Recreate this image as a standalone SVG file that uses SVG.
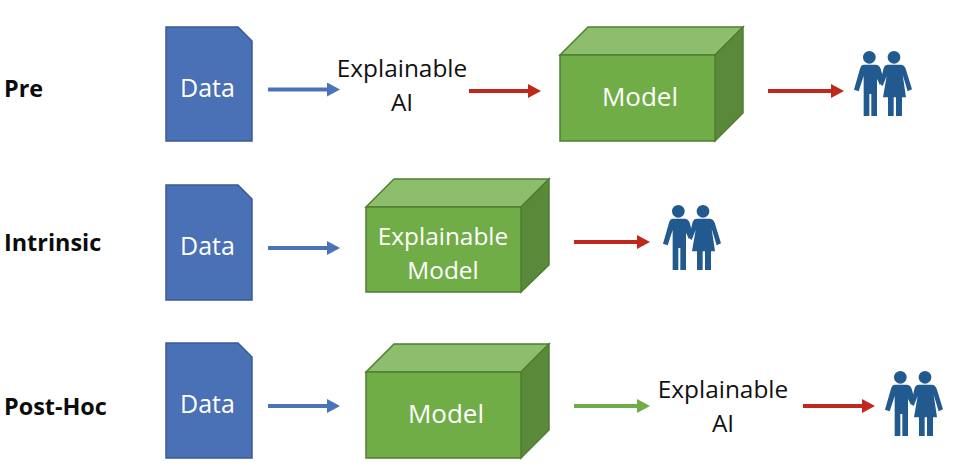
<svg xmlns="http://www.w3.org/2000/svg" xmlns:xlink="http://www.w3.org/1999/xlink" width="958" height="472" viewBox="0 0 958 472">
<style>
text{font-family:"Open Sans","Liberation Sans",sans-serif;text-anchor:middle}
.w{fill:#fff;font-size:24.4px}
.m{fill:#fff;font-size:26px}
.d{fill:#fff;font-size:25px}
.k{fill:#111;font-size:24.4px}
.b{fill:#0c0c0c;font-size:23.4px;font-weight:700;text-anchor:start}
.doc{fill:#4a70b5;stroke:#3a5a94;stroke-width:1.5}
.front{fill:#70ad47;stroke:#507e32;stroke-width:1.5}
.top{fill:#8dbe6c;stroke:#507e32;stroke-width:1.5}
.side{fill:#5a8a39;stroke:#507e32;stroke-width:1.5}
.cb{stroke:#4a74b8;stroke-width:4;fill:none;marker-end:url(#ab)}
.cr{stroke:#c0281c;stroke-width:4;fill:none;marker-end:url(#ar)}
.cg{stroke:#70ad47;stroke-width:4;fill:none;marker-end:url(#ag)}
</style>
<defs>
<marker id="ab" markerUnits="userSpaceOnUse" markerWidth="14" markerHeight="14" refX="1" refY="7" orient="auto"><path d="M0 0L13 7L0 14Z" fill="#4a74b8"/></marker>
<marker id="ar" markerUnits="userSpaceOnUse" markerWidth="14" markerHeight="14" refX="1" refY="7" orient="auto"><path d="M0 0L13 7L0 14Z" fill="#c0281c"/></marker>
<marker id="ag" markerUnits="userSpaceOnUse" markerWidth="14" markerHeight="14" refX="1" refY="7" orient="auto"><path d="M0 0L13 7L0 14Z" fill="#70ad47"/></marker>
<filter id="soft" x="-10%" y="-10%" width="120%" height="120%"><feGaussianBlur stdDeviation="2"/></filter>
<g id="people" fill="#215a8f" filter="url(#soft)" transform="translate(840 40) scale(.3333)">
<circle cx="88" cy="52" r="19"/>
<circle cx="162" cy="52" r="19"/>
<path d="M72 74H106C114 74 119 78 122 86L128 108L120 136L111 116V228H94V162H88V228H71V108L56 154L42 149L60 86C62 78 66 74 72 74Z"/>
<path d="M144 74H182C189 74 194 78 197 86L216 148L203 154L188 104L198 172H186V228H168V172H161V228H144V172H129L140 108L128 138L120 132L130 88C132 78 137 74 144 74Z"/>
</g>
</defs>

<g id="label-pre"><text class="b" x="4" y="97">Pre</text></g>
<g id="label-intrinsic"><text class="b" x="4" y="251">Intrinsic</text></g>
<g id="label-posthoc"><text class="b" x="4" y="415">Post-Hoc</text></g>

<g id="connectors">
<path class="cb" d="M268 89.500H328"/>
<path class="cr" d="M469 91H529"/>
<path class="cr" d="M768 91H832"/>
<path class="cb" d="M268 248H328"/>
<path class="cr" d="M574 242H638"/>
<path class="cb" d="M268 406H328"/>
<path class="cg" d="M574 406H638"/>
<path class="cr" d="M803 406H863"/>
</g>

<g id="data-1"><path class="doc" d="M166 27H238L252 41V141H166Z"/><text class="d" x="207.500" y="97">Data</text></g>
<g id="xai-1"><text class="k" x="402" y="77">Explainable</text><text class="k" x="402" y="111">AI</text></g>
<g id="model-1">
<path class="top" d="M560 55L588 27H743L715 55Z"/><path class="side" d="M715 55L743 27V113L715 141Z"/><rect class="front" x="560" y="55" width="155" height="86"/>
<text class="m" x="640" y="106">Model</text></g>
<g id="people-1"><use href="#people" xlink:href="#people"/></g>

<g id="data-2"><path class="doc" d="M166 185H238L252 199V300H166Z"/><text class="d" x="207.500" y="255">Data</text></g>
<g id="model-2">
<path class="top" d="M366 207L394 179H549L521 207Z"/><path class="side" d="M521 207L549 179V265L521 292Z"/><rect class="front" x="366" y="207" width="155" height="85"/>
<text class="w" x="443" y="245">Explainable</text><text class="w" x="443" y="279">Model</text></g>
<g id="people-2"><use href="#people" xlink:href="#people" transform="translate(-191 154)"/></g>

<g id="data-3"><path class="doc" d="M166 343H238L252 357V458H166Z"/><text class="d" x="207.500" y="413">Data</text></g>
<g id="model-3">
<path class="top" d="M366 372L394 344H549L521 372Z"/><path class="side" d="M521 372L549 344V430L521 458Z"/><rect class="front" x="366" y="372" width="155" height="86"/>
<text class="m" x="446" y="423">Model</text></g>
<g id="xai-2"><text class="k" x="723" y="398">Explainable</text><text class="k" x="723" y="432">AI</text></g>
<g id="people-3"><use href="#people" xlink:href="#people" transform="translate(31 320)"/></g>
</svg>
